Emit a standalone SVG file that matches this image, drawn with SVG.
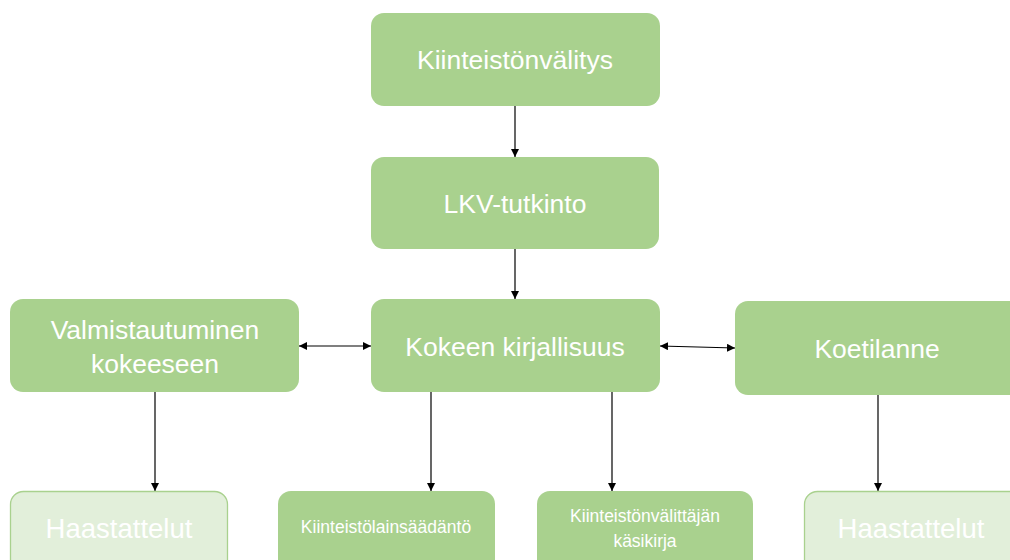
<svg xmlns="http://www.w3.org/2000/svg" width="1010" height="560" viewBox="0 0 1010 560">
<style>
.box{fill:#a9d18e;}
.light{fill:#e2efda;stroke:#a9d18e;stroke-width:1.3;}
.t{fill:#ffffff;font-family:"Liberation Sans","Open Sans",sans-serif;text-anchor:middle;dominant-baseline:central;}
.big{font-size:26.5px;}
.huge{font-size:27.5px;}
.small{font-size:17.5px;}
.c{stroke:#000;stroke-width:1.2;fill:none;}
</style>
<defs>
<marker id="ah" viewBox="0 0 10 10" refX="10" refY="5" markerWidth="8" markerHeight="8" markerUnits="userSpaceOnUse" orient="auto-start-reverse">
<path d="M0,0 L10,5 L0,10 z" fill="#000"/>
</marker>
</defs>
<rect width="1010" height="560" fill="#ffffff"/>
<g id="connectors">
<line class="c" x1="515" y1="106" x2="515" y2="157" marker-end="url(#ah)"/>
<line class="c" x1="515" y1="249" x2="515" y2="299" marker-end="url(#ah)"/>
<line class="c" x1="299" y1="346" x2="371" y2="346" marker-start="url(#ah)" marker-end="url(#ah)"/>
<line class="c" x1="660" y1="346" x2="735" y2="348" marker-start="url(#ah)" marker-end="url(#ah)"/>
<line class="c" x1="155" y1="392" x2="155" y2="491" marker-end="url(#ah)"/>
<line class="c" x1="431" y1="392" x2="431" y2="491" marker-end="url(#ah)"/>
<line class="c" x1="612" y1="392" x2="612" y2="491" marker-end="url(#ah)"/>
<line class="c" x1="878" y1="395" x2="878" y2="491" marker-end="url(#ah)"/>
</g>
<g id="kiinteistonvalitys">
<rect class="box" x="371" y="13" width="289" height="93" rx="13"/>
<text class="t big" x="515" y="60">Kiinteistönvälitys</text>
</g>
<g id="lkv">
<rect class="box" x="371" y="157" width="288" height="92" rx="13"/>
<text class="t big" x="515" y="204">LKV-tutkinto</text>
</g>
<g id="valmistautuminen">
<rect class="box" x="10" y="299" width="289" height="93" rx="13"/>
<text class="t big" x="155" y="330">Valmistautuminen</text>
<text class="t big" x="155" y="364">kokeeseen</text>
</g>
<g id="kokeen">
<rect class="box" x="371" y="299" width="289" height="93" rx="13"/>
<text class="t big" x="515" y="347">Kokeen kirjallisuus</text>
</g>
<g id="koetilanne">
<rect class="box" x="735" y="301" width="290" height="94" rx="13"/>
<text class="t big" x="877" y="349">Koetilanne</text>
</g>
<g id="haastattelut1">
<rect class="light" x="10.5" y="491.5" width="217" height="90" rx="13"/>
<text class="t huge" x="119" y="528">Haastattelut</text>
</g>
<g id="lainsaadanto">
<rect class="box" x="278" y="491" width="217" height="90" rx="13"/>
<text class="t small" x="386" y="527">Kiinteistölainsäädäntö</text>
</g>
<g id="kasikirja">
<rect class="box" x="537" y="491" width="216" height="90" rx="13"/>
<text class="t small" x="645" y="516">Kiinteistönvälittäjän</text>
<text class="t small" x="645" y="541">käsikirja</text>
</g>
<g id="haastattelut2">
<rect class="light" x="804.5" y="491.5" width="230" height="90" rx="13"/>
<text class="t huge" x="911" y="528">Haastattelut</text>
</g>
</svg>
